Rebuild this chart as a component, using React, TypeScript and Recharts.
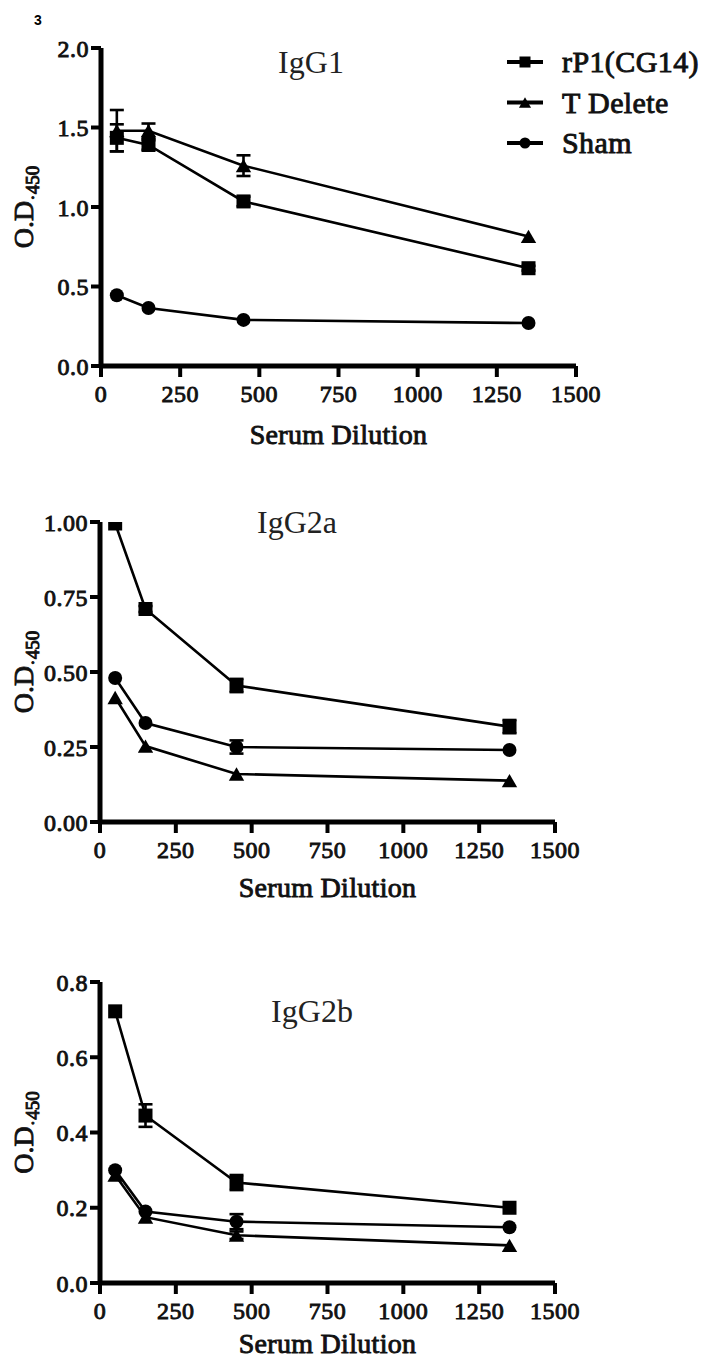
import { ErrorBar, Label, Line, LineChart, XAxis, YAxis } from "recharts";

/* ── data ─────────────────────────────────────────────── */

const dilutions = [50, 150, 450, 1350];
const xTicks = [0, 250, 500, 750, 1000, 1250, 1500];

const seriesNames = ["rP1(CG14)", "T Delete", "Sham"];
const seriesShapes = ["square", "triangle", "circle"];

// IgG1
const igg1Rp1 = [1.435, 1.39, 1.035, 0.615];
const igg1Rp1Err = [0.085, 0.03, 0.03, 0.015];
const igg1TDel = [1.48, 1.48, 1.26, 0.815];
const igg1TDelErr = [0.13, 0.045, 0.065, 0];
const igg1Sham = [0.445, 0.365, 0.29, 0.27];
const igg1ShamErr = [0, 0, 0, 0];
const igg1Ticks = [0, 0.5, 1, 1.5, 2];

// IgG2a
const igg2aRp1 = [0.995, 0.71, 0.455, 0.318];
const igg2aRp1Err = [0, 0.01, 0.022, 0.022];
const igg2aTDel = [0.415, 0.253, 0.16, 0.138];
const igg2aTDelErr = [0, 0, 0, 0];
const igg2aSham = [0.48, 0.33, 0.25, 0.24];
const igg2aShamErr = [0, 0, 0.022, 0];
const igg2aTicks = [0, 0.25, 0.5, 0.75, 1];

// IgG2b
const igg2bRp1 = [0.722, 0.445, 0.267, 0.2];
const igg2bRp1Err = [0, 0.03, 0.02, 0];
const igg2bTDel = [0.287, 0.175, 0.127, 0.1];
const igg2bTDelErr = [0, 0, 0.01, 0];
const igg2bSham = [0.3, 0.19, 0.163, 0.148];
const igg2bShamErr = [0, 0, 0.02, 0];
const igg2bTicks = [0, 0.2, 0.4, 0.6, 0.8];

function buildRows(
  rp1: number[], rp1Err: number[],
  tdel: number[], tdelErr: number[],
  sham: number[], shamErr: number[]
) {
  return dilutions.map((x, i) => ({
    x,
    rp1: rp1[i], rp1Err: rp1Err[i],
    tdel: tdel[i], tdelErr: tdelErr[i],
    sham: sham[i], shamErr: shamErr[i],
  }));
}

const SERIF = "'Liberation Serif', 'Times New Roman', serif";
const INK = "#111";
// the bold serif face is not matched here, so thicken the regular one
const BOLD = { fontWeight: "normal", stroke: INK, strokeWidth: 0.9, paintOrder: "stroke" };

const panels = [
  {
    title: "IgG1",
    rows: buildRows(igg1Rp1, igg1Rp1Err, igg1TDel, igg1TDelErr, igg1Sham, igg1ShamErr),
    ticks: igg1Ticks,
    decimals: 1,
    top: 0,
    height: 470,
    margin: { top: 48, right: 132, bottom: 64, left: 0 },
    yWidth: 101,
    labelOffset: 18,
    titleX: 311,
    titleY: 73,
  },
  {
    title: "IgG2a",
    rows: buildRows(igg2aRp1, igg2aRp1Err, igg2aTDel, igg2aTDelErr, igg2aSham, igg2aShamErr),
    ticks: igg2aTicks,
    decimals: 2,
    top: 470,
    height: 450,
    margin: { top: 52, right: 153, bottom: 58, left: 0 },
    yWidth: 100,
    labelOffset: 15,
    titleX: 297,
    titleY: 533,
  },
  {
    title: "IgG2b",
    rows: buildRows(igg2bRp1, igg2bRp1Err, igg2bTDel, igg2bTDelErr, igg2bSham, igg2bShamErr),
    ticks: igg2bTicks,
    decimals: 1,
    top: 930,
    height: 429,
    margin: { top: 52, right: 153, bottom: 36, left: 0 },
    yWidth: 100,
    labelOffset: 10,
    titleX: 312,
    titleY: 1022,
  },
];

const seriesKeys = ["rp1", "tdel", "sham"];

/* ── markers ──────────────────────────────────────────── */

function Marker({ shape, cx, cy, s }: { shape: string; cx: number; cy: number; s: number }) {
  if (shape === "square") {
    return <rect x={cx - s / 2} y={cy - s / 2} width={s} height={s} fill="#000" />;
  }
  if (shape === "triangle") {
    const w = s * 1.1;
    const h = s * 0.95;
    return (
      <polygon
        points={`${cx},${cy - h / 2} ${cx + w / 2},${cy + h / 2} ${cx - w / 2},${cy + h / 2}`}
        fill="#000"
      />
    );
  }
  return <circle cx={cx} cy={cy} r={s / 2} fill="#000" />;
}

function OdLabel(props: any) {
  const vb = props.viewBox || { x: 0, y: 0, width: 0, height: 0 };
  const cx = vb.x + 33;
  const cy = vb.y + vb.height / 2;
  return (
    <text
      x={cx}
      y={cy}
      transform={`rotate(-90, ${cx}, ${cy})`}
      textAnchor="middle"
      fontFamily={SERIF}
      fontSize={28}
      fill={INK}
      {...BOLD}
    >
      O.D
      <tspan fontSize={19} dy={6}>·450</tspan>
    </text>
  );
}

/* ── panel ────────────────────────────────────────────── */

function Panel({ p }: { p: (typeof panels)[number] }) {
  const tickStyle = { fill: INK, fontSize: 24, letterSpacing: 0.5, fontFamily: SERIF, ...BOLD };
  return (
    <div style={{ position: "absolute", left: 0, top: p.top }}>
      <LineChart width={708} height={p.height} data={p.rows} margin={p.margin}>
        <XAxis
          dataKey="x"
          type="number"
          domain={[0, 1500]}
          ticks={xTicks}
          height={40}
          axisLine={{ stroke: "#000", strokeWidth: 5 }}
          tickLine={{ stroke: "#000", strokeWidth: 4 }}
          tickSize={11}
          tickMargin={8}
          tick={tickStyle}
        >
          <Label
            value="Serum Dilution"
            position="bottom"
            offset={p.labelOffset}
            fill={INK}
            fontSize={28}
            letterSpacing={0.3}
            fontFamily={SERIF}
            {...BOLD}
          />
        </XAxis>
        <YAxis
          type="number"
          domain={[p.ticks[0], p.ticks[p.ticks.length - 1]]}
          ticks={p.ticks}
          width={p.yWidth}
          allowDataOverflow
          tickFormatter={(v: number) => v.toFixed(p.decimals)}
          axisLine={{ stroke: "#000", strokeWidth: 5 }}
          tickLine={{ stroke: "#000", strokeWidth: 4 }}
          tickSize={10}
          tickMargin={2}
          tick={tickStyle}
        >
          <Label content={<OdLabel />} />
        </YAxis>
        {seriesKeys.map((k, si) => (
          <Line
            key={k}
            dataKey={k}
            type="linear"
            stroke="#000"
            strokeWidth={2.6}
            isAnimationActive={false}
            activeDot={false}
            dot={(d: any) => (
              <Marker
                key={`${k}-${d.index}`}
                shape={seriesShapes[si]}
                cx={d.cx}
                cy={d.cy}
                s={14}
              />
            )}
          >
            <ErrorBar
              dataKey={`${k}Err`}
              direction="y"
              width={7}
              stroke="#000"
              strokeWidth={2.6}
              isAnimationActive={false}
            />
          </Line>
        ))}
      </LineChart>
    </div>
  );
}

/* ── app ──────────────────────────────────────────────── */

export default function App() {
  return (
    <div
      style={{
        position: "absolute",
        left: 0,
        top: 0,
        width: 708,
        height: 1359,
        background: "#fff",
        overflow: "hidden",
      }}
    >
      {panels.map((p) => (
        <Panel key={p.title} p={p} />
      ))}

      <svg
        width={708}
        height={1359}
        style={{ position: "absolute", left: 0, top: 0, pointerEvents: "none" }}
      >
        <text
          x={38}
          y={25}
          textAnchor="middle"
          fontFamily="'Liberation Sans', Arial, sans-serif"
          fontWeight="bold"
          fontSize={14}
          fill="#000"
        >
          3
        </text>

        {panels.map((p) => (
          <text
            key={p.title}
            x={p.titleX}
            y={p.titleY}
            textAnchor="middle"
            fontFamily={SERIF}
            fontSize={32}
            fill="#222"
          >
            {p.title}
          </text>
        ))}

        {/* legend */}
        {seriesNames.map((name, i) => {
          const cy = 62 + i * 40.5;
          return (
            <g key={name}>
              <line x1={507} x2={543} y1={cy} y2={cy} stroke="#000" strokeWidth={4} />
              <Marker shape={seriesShapes[i]} cx={525} cy={cy} s={11} />
              <text
                x={562}
                y={cy + 10}
                fontFamily={SERIF}
                fontSize={30}
                letterSpacing={0.4}
                fill={INK}
                {...BOLD}
              >
                {name}
              </text>
            </g>
          );
        })}
      </svg>
    </div>
  );
}
